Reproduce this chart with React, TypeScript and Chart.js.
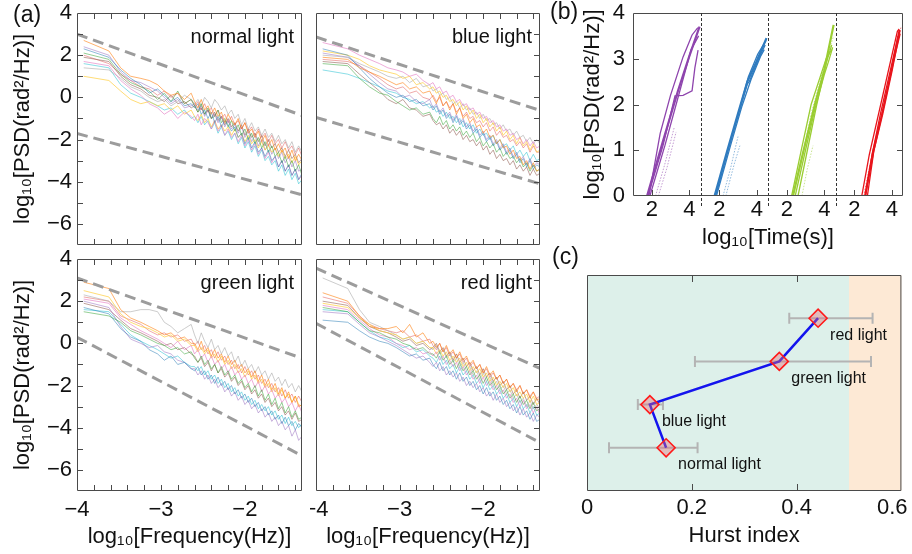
import React, { useEffect, useRef } from 'react';
import { Chart, registerables } from 'chart.js';
Chart.register(...registerables);

const FONT = "'Liberation Sans', Arial, Helvetica, sans-serif";
const MINUS = '\u2212';
const INK = '#111111';

// ---------------- (a) PSD panels ----------------
const FREQ = [
  -3.92, -3.62, -3.48, -3.36, -3.24, -3.14, -3.04, -2.96, -2.88, -2.8, -2.72, -2.64,
  -2.6, -2.56, -2.52, -2.48, -2.44, -2.4, -2.36, -2.32, -2.28, -2.24, -2.2,
  -2.16, -2.12, -2.08, -2.04, -2.0, -1.96, -1.92, -1.88, -1.84, -1.8, -1.76,
  -1.72, -1.68, -1.64, -1.6, -1.56, -1.52, -1.48, -1.44, -1.4, -1.36, -1.32,
];

const PSD_COLORS = [
  'rgba(255,127,14,0.6)', 'rgba(31,119,180,0.5)', 'rgba(44,160,44,0.5)', 'rgba(227,119,194,0.6)',
  'rgba(255,205,60,0.7)', 'rgba(170,170,170,0.6)', 'rgba(148,103,189,0.5)', 'rgba(140,86,75,0.55)',
  'rgba(23,190,207,0.5)', 'rgba(214,39,40,0.4)',
];

const NORMAL_PSD = [
  [2.7, 2.2, 1.4, 1.0, 0.9, 0.8, 0.6, 0.3, 0.1, 0.2, -0.1, 0.2,
    -0.2, -0.5, -0.1, -0.6, -0.4, -0.8, -0.5, -0.9, -0.7, -1.2, -0.8,
    -1.1, -1.3, -1.0, -1.5, -1.2, -1.7, -1.5, -1.9, -1.6, -2.1, -1.8,
    -2.3, -2.0, -2.5, -2.2, -2.6, -2.4, -2.9, -2.5, -3.0, -2.7, -3.0],
  [2.3, 1.9, 1.3, 0.9, 0.6, 0.2, 0.4, 0.1, -0.2, 0.0, -0.4, -0.3,
    -0.5, -0.3, -0.8, -0.6, -1.0, -0.7, -1.2, -0.9, -1.4, -1.1, -1.3,
    -1.6, -1.4, -1.9, -1.7, -2.2, -1.9, -2.4, -2.1, -2.6, -2.4, -2.8,
    -2.5, -3.0, -2.8, -3.3, -3.0, -3.5, -3.2, -3.7, -3.4, -3.9, -3.6],
  [2.1, 1.8, 1.1, 0.7, 0.5, 0.3, -0.1, 0.2, -0.2, 0.3, -0.3, -0.1,
    -0.4, -0.7, -0.3, -0.8, -0.5, -1.0, -0.9, -0.6, -1.2, -1.0, -1.4,
    -1.1, -1.6, -1.3, -1.8, -1.5, -2.0, -1.7, -2.2, -1.9, -2.4, -2.1,
    -2.6, -2.3, -2.8, -2.6, -3.1, -2.8, -3.3, -3.0, -3.5, -3.2, -3.7],
  [1.7, 1.5, 0.8, 0.4, 0.1, -0.3, -0.5, -0.8, -0.6, -1.0, -0.7, -0.9,
    -1.1, -0.8, -1.3, -1.0, -1.2, -1.5, -1.1, -1.6, -1.3, -1.8, -1.5,
    -1.9, -1.7, -2.1, -1.8, -2.3, -2.0, -2.5, -2.2, -2.7, -2.4, -2.9,
    -2.6, -3.1, -2.8, -3.3, -3.0, -3.5, -3.2, -3.7, -3.4, -3.9, -3.7],
  [1.0, 0.8, 0.3, -0.1, -0.3, -0.2, -0.4, -0.3, -0.6, -0.4, -0.8, -0.6,
    -0.9, -1.1, -0.8, -1.2, -1.0, -1.4, -1.1, -1.5, -1.3, -1.6, -1.4,
    -1.8, -1.5, -1.9, -1.7, -2.1, -1.8, -2.2, -2.0, -2.4, -2.1, -2.5,
    -2.3, -2.6, -2.4, -2.8, -2.5, -2.9, -2.7, -3.1, -2.8, -3.2, -3.0],
  [1.4, 1.3, 0.9, 0.5, 0.3, 0.0, -0.2, -0.1, -0.4, -0.2, 0.1, -0.1,
    -0.3, -0.1, -0.4, 0.0, -0.2, -0.5, -0.1, -0.3, -0.6, -0.4, -0.8,
    -0.6, -1.0, -0.8, -1.3, -1.0, -1.5, -1.2, -1.6, -1.4, -1.8, -1.5,
    -1.9, -1.7, -2.1, -1.8, -2.2, -2.0, -2.4, -2.1, -2.6, -2.3, -2.6],
  [2.4, 2.0, 1.2, 0.8, 0.7, 0.5, 0.3, 0.0, -0.3, -0.1, -0.5, -0.4,
    -0.3, -0.6, -0.4, -0.9, -0.6, -1.0, -0.8, -1.2, -0.9, -1.4, -1.1,
    -1.5, -1.3, -1.7, -1.4, -1.9, -1.6, -2.1, -1.8, -2.3, -2.0, -2.5,
    -2.2, -2.7, -2.4, -2.9, -2.6, -3.1, -2.8, -3.3, -3.0, -3.5, -3.4],
  [1.9, 1.7, 1.0, 0.6, 0.4, 0.1, 0.0, -0.2, 0.1, -0.3, -0.2, -0.5,
    -0.4, -0.7, -0.5, -0.8, -0.6, -1.0, -0.7, -1.1, -0.9, -1.3, -1.0,
    -1.4, -1.2, -1.6, -1.3, -1.8, -1.5, -1.9, -1.7, -2.1, -1.8, -2.3,
    -2.0, -2.4, -2.2, -2.6, -2.4, -2.8, -2.5, -2.9, -2.7, -3.1, -2.9],
  [1.6, 1.4, 0.6, 0.2, 0.0, -0.2, -0.4, -0.6, -0.5, -0.8, -0.6, -1.0,
    -0.9, -1.2, -0.9, -1.3, -1.1, -1.5, -1.2, -1.7, -1.4, -1.8, -1.6,
    -2.0, -1.7, -2.2, -1.9, -2.4, -2.1, -2.6, -2.3, -2.8, -2.5, -3.0,
    -2.8, -3.2, -3.0, -3.5, -3.2, -3.7, -3.4, -3.9, -3.6, -4.1, -3.9],
  [2.0, 1.6, 1.1, 0.8, 0.5, 0.4, 0.1, 0.3, 0.0, 0.2, -0.3, -0.1,
    -0.4, -0.2, -0.6, -0.3, -0.7, -0.5, -0.9, -0.6, -1.0, -0.8, -1.2,
    -0.9, -1.3, -1.1, -1.5, -1.2, -1.6, -1.4, -1.8, -1.5, -1.9, -1.7,
    -2.1, -1.8, -2.2, -2.0, -2.4, -2.1, -2.5, -2.3, -2.7, -2.4, -2.8],
];

const BLUE_PSD = [
  [1.9, 1.8, 1.4, 1.2, 1.0, 0.8, 0.6, 0.7, 0.4, 0.5, 0.2, 0.3,
    0.0, -0.3, 0.1, -0.4, -0.2, -0.6, -0.3, -0.8, -0.5, -1.0, -0.8,
    -1.2, -1.0, -1.4, -1.3, -1.7, -1.5, -1.9, -1.8, -2.2, -2.0, -2.4,
    -2.3, -2.7, -2.5, -2.9, -2.8, -3.2, -3.0, -3.4, -3.1, -3.5, -3.4],
  [2.3, 2.0, 1.4, 0.9, 0.5, 0.2, 0.0, 0.1, -0.2, -0.1, -0.4, -0.3,
    -0.6, -0.4, -0.8, -0.6, -1.0, -0.8, -1.2, -0.9, -1.3, -1.1, -1.5,
    -1.3, -1.7, -1.5, -1.9, -1.7, -2.1, -1.9, -2.3, -2.1, -2.5, -2.3,
    -2.7, -2.5, -2.9, -2.7, -3.1, -2.9, -3.3, -3.0, -3.4, -3.2, -3.3],
  [1.6, 1.5, 0.9, 0.5, 0.2, 0.1, -0.2, -0.4, -0.6, -0.5, -0.8, -0.7,
    -1.0, -1.2, -0.9, -1.3, -1.1, -1.5, -1.3, -1.6, -1.4, -1.8, -1.6,
    -1.9, -1.7, -2.1, -1.9, -2.3, -2.1, -2.4, -2.2, -2.6, -2.4, -2.8,
    -2.6, -2.9, -2.8, -3.1, -2.9, -3.3, -3.1, -3.5, -3.2, -3.5, -3.4],
  [2.6, 2.3, 2.0, 1.8, 1.6, 1.4, 1.3, 1.2, 1.0, 1.1, 0.8, 0.6,
    0.7, 0.4, 0.5, 0.2, 0.3, 0.0, 0.1, -0.2, -0.1, -0.4, -0.3,
    -0.6, -0.5, -0.8, -0.7, -1.0, -0.9, -1.2, -1.1, -1.4, -1.3, -1.6,
    -1.5, -1.8, -1.7, -2.0, -1.9, -2.2, -2.0, -2.3, -2.1, -2.4, -2.3],
  [2.2, 2.0, 1.8, 1.5, 1.3, 1.2, 1.1, 0.9, 1.0, 0.6, 0.7, 0.4,
    0.5, 0.2, 0.3, 0.0, 0.1, -0.2, -0.1, -0.4, -0.2, -0.6, -0.4,
    -0.8, -0.6, -1.0, -0.8, -1.2, -1.0, -1.4, -1.2, -1.6, -1.4, -1.8,
    -1.6, -2.0, -1.8, -2.2, -1.9, -2.3, -2.1, -2.5, -2.2, -2.6, -2.5],
  [2.0, 1.9, 1.6, 1.4, 1.2, 1.0, 0.9, 1.0, 0.7, 0.9, 0.5, 0.6,
    0.3, 0.4, 0.1, 0.2, -0.1, 0.0, -0.3, -0.2, -0.5, -0.3, -0.6,
    -0.5, -0.8, -0.7, -1.0, -0.8, -1.1, -1.0, -1.3, -1.2, -1.5, -1.3,
    -1.6, -1.5, -1.8, -1.6, -1.9, -1.8, -2.1, -1.9, -2.2, -2.0, -2.2],
  [2.1, 1.9, 1.5, 1.1, 0.7, 0.4, 0.3, 0.0, 0.1, -0.2, -0.3, -0.1,
    -0.5, -0.3, -0.7, -0.5, -0.9, -0.7, -1.1, -0.8, -1.2, -1.0, -1.4,
    -1.2, -1.6, -1.4, -1.8, -1.6, -2.0, -1.8, -2.2, -2.0, -2.4, -2.2,
    -2.6, -2.4, -2.8, -2.6, -3.0, -2.8, -3.2, -2.9, -3.3, -3.1, -3.2],
  [1.7, 1.6, 1.1, 0.7, 0.3, -0.1, -0.3, -0.1, -0.5, -0.6, -0.9, -0.8,
    -1.1, -1.3, -1.2, -1.5, -1.3, -1.7, -1.5, -1.8, -1.6, -2.0, -1.8,
    -2.1, -2.0, -2.3, -2.1, -2.5, -2.3, -2.7, -2.5, -2.9, -2.7, -3.0,
    -2.9, -3.2, -3.0, -3.4, -3.2, -3.5, -3.3, -3.7, -3.4, -3.7, -3.6],
  [1.3, 1.1, 0.9, 0.7, 0.5, 0.3, 0.2, 0.0, -0.1, -0.3, -0.2, -0.5,
    -0.4, -0.7, -0.6, -0.9, -0.7, -1.0, -0.9, -1.2, -1.0, -1.4, -1.2,
    -1.5, -1.3, -1.7, -1.5, -1.8, -1.7, -2.0, -1.8, -2.2, -2.0, -2.3,
    -2.2, -2.5, -2.3, -2.7, -2.5, -2.8, -2.6, -3.0, -2.7, -3.0, -2.9],
  [1.8, 1.7, 1.5, 1.2, 0.9, 0.6, 0.4, 0.5, 0.2, 0.3, 0.0, -0.1,
    0.1, -0.2, 0.0, -0.4, -0.2, -0.5, -0.3, -0.7, -0.5, -0.9, -0.7,
    -1.0, -0.9, -1.2, -1.1, -1.4, -1.2, -1.6, -1.4, -1.8, -1.6, -1.9,
    -1.8, -2.1, -2.0, -2.3, -2.1, -2.4, -2.2, -2.6, -2.3, -2.6, -2.6],
];

const GREEN_PSD = [
  [2.9, 2.6, 1.6, 1.2, 1.0, 0.8, 0.6, 0.4, 0.5, 0.2, 0.3, 0.0,
    0.0, -0.3, 0.1, -0.4, -0.2, -0.6, -0.3, -0.7, -0.5, -0.9, -0.6,
    -1.0, -0.8, -1.2, -1.0, -1.4, -1.2, -1.6, -1.3, -1.8, -1.5, -2.0,
    -1.7, -2.2, -1.9, -2.4, -2.1, -2.6, -2.3, -2.8, -2.5, -3.0, -2.9],
  [1.7, 1.4, 0.7, 0.3, 0.1, -0.3, -0.5, -0.8, -0.6, -1.0, -0.9, -1.2,
    -1.3, -1.1, -1.5, -1.3, -1.7, -1.5, -1.9, -1.6, -2.0, -1.8, -2.2,
    -2.0, -2.4, -2.2, -2.6, -2.4, -2.8, -2.6, -3.0, -2.8, -3.2, -3.0,
    -3.4, -3.2, -3.6, -3.4, -3.8, -3.5, -3.9, -3.7, -4.1, -3.8, -4.0],
  [1.5, 1.3, 1.0, 0.6, 0.4, 0.2, 0.0, -0.1, -0.3, -0.2, -0.5, -0.4,
    -0.7, -0.9, -0.6, -1.0, -0.8, -1.2, -1.0, -1.4, -1.1, -1.5, -1.3,
    -1.7, -1.5, -1.9, -1.7, -2.1, -1.9, -2.3, -2.0, -2.5, -2.2, -2.7,
    -2.4, -2.9, -2.6, -3.1, -2.8, -3.3, -3.0, -3.5, -3.2, -3.6, -3.5],
  [2.1, 1.9, 1.2, 0.9, 0.6, 0.4, 0.2, 0.0, -0.2, 0.1, -0.3, -0.1,
    -0.5, -0.3, -0.7, -0.5, -0.9, -0.6, -1.0, -0.8, -1.2, -1.0, -1.4,
    -1.1, -1.5, -1.3, -1.7, -1.5, -1.9, -1.7, -2.1, -1.8, -2.3, -2.0,
    -2.4, -2.2, -2.6, -2.4, -2.8, -2.6, -3.0, -2.8, -3.2, -2.9, -3.3],
  [2.5, 2.2, 1.4, 1.0, 0.8, 0.7, 0.5, 0.3, 0.4, 0.1, 0.2, -0.1,
    -0.1, -0.4, -0.2, -0.5, -0.3, -0.7, -0.5, -0.9, -0.6, -1.0, -0.8,
    -1.2, -1.0, -1.4, -1.2, -1.6, -1.3, -1.7, -1.5, -1.9, -1.7, -2.1,
    -1.9, -2.3, -2.1, -2.5, -2.2, -2.6, -2.4, -2.8, -2.5, -2.9, -3.0],
  [2.3, 2.0, 1.5, 1.5, 1.6, 1.6, 1.5, 1.0, 0.8, 0.5, 0.7, 0.9,
    0.4, 0.0, 0.5, 0.1, -0.2, 0.2, -0.3, -0.1, -0.5, -0.2, -0.6,
    -0.4, -0.9, -0.6, -1.1, -0.8, -1.2, -1.0, -1.4, -1.1, -1.5, -1.3,
    -1.7, -1.4, -1.8, -1.6, -2.0, -1.7, -2.1, -1.9, -2.3, -2.0, -2.3],
  [2.0, 1.7, 0.8, 0.2, 0.0, -0.2, -0.1, -0.4, -0.5, -0.8, -0.9, -1.2,
    -1.2, -1.5, -1.3, -1.7, -1.5, -1.9, -1.7, -2.1, -1.9, -2.3, -2.1,
    -2.5, -2.3, -2.7, -2.5, -2.9, -2.7, -3.1, -2.9, -3.3, -3.1, -3.5,
    -3.3, -3.7, -3.5, -3.9, -3.7, -4.1, -3.9, -4.4, -4.1, -4.6, -4.4],
  [1.9, 1.6, 1.1, 0.7, 0.5, 0.3, 0.1, -0.1, 0.0, -0.3, -0.2, -0.5,
    -0.6, -0.9, -0.7, -1.1, -0.9, -1.3, -1.0, -1.4, -1.2, -1.6, -1.4,
    -1.8, -1.6, -2.0, -1.8, -2.2, -2.0, -2.4, -2.2, -2.6, -2.4, -2.8,
    -2.6, -3.0, -2.8, -3.2, -3.0, -3.4, -3.2, -3.6, -3.3, -3.7, -3.6],
  [1.6, 1.5, 0.9, 0.4, 0.1, -0.1, -0.3, -0.5, -0.7, -0.6, -0.9, -1.1,
    -1.1, -1.3, -1.1, -1.5, -1.3, -1.7, -1.5, -1.9, -1.7, -2.1, -1.9,
    -2.3, -2.1, -2.5, -2.3, -2.7, -2.5, -2.9, -2.7, -3.1, -2.9, -3.2,
    -3.0, -3.4, -3.2, -3.6, -3.4, -3.8, -3.5, -3.9, -3.7, -4.0, -3.8],
  [2.2, 2.0, 1.3, 1.1, 0.9, 0.6, 0.4, 0.5, 0.3, 0.4, 0.1, 0.2,
    -0.1, 0.1, -0.3, -0.1, -0.5, -0.3, -0.7, -0.4, -0.8, -0.6, -1.0,
    -0.8, -1.2, -1.0, -1.4, -1.1, -1.5, -1.3, -1.7, -1.5, -1.9, -1.7,
    -2.1, -1.9, -2.3, -2.1, -2.5, -2.2, -2.6, -2.4, -2.8, -2.5, -2.8],
];

const RED_PSD = [
  [2.4, 2.0, 1.3, 0.8, 0.7, 0.7, 0.8, 0.5, 0.9, 0.3, 0.5, 0.0,
    0.1, -0.2, 0.0, -0.4, -0.1, -0.5, -0.3, -0.7, -0.4, -0.8, -0.6,
    -1.0, -0.8, -1.2, -1.0, -1.4, -1.1, -1.5, -1.3, -1.7, -1.5, -1.9,
    -1.7, -2.1, -1.9, -2.3, -2.0, -2.4, -2.2, -2.6, -2.3, -2.7, -2.6],
  [1.1, 1.0, 0.6, 0.3, 0.1, 0.0, -0.2, -0.4, -0.6, -0.5, -0.8, -0.7,
    -1.0, -1.2, -0.9, -1.3, -1.1, -1.5, -1.3, -1.7, -1.4, -1.8, -1.6,
    -2.0, -1.8, -2.2, -2.0, -2.4, -2.1, -2.5, -2.3, -2.7, -2.5, -2.9,
    -2.7, -3.1, -2.9, -3.3, -3.0, -3.4, -3.2, -3.6, -3.3, -3.7, -3.6],
  [1.7, 1.5, 1.0, 0.6, 0.5, 0.3, 0.2, 0.0, -0.1, -0.3, -0.2, -0.5,
    -0.5, -0.7, -0.4, -0.8, -0.6, -1.0, -0.8, -1.2, -0.9, -1.3, -1.1,
    -1.5, -1.3, -1.7, -1.5, -1.9, -1.6, -2.0, -1.8, -2.2, -2.0, -2.4,
    -2.2, -2.6, -2.4, -2.8, -2.5, -2.9, -2.7, -3.1, -2.8, -3.2, -3.1],
  [1.8, 1.6, 1.1, 0.7, 0.4, 0.3, 0.0, -0.1, -0.3, -0.2, -0.5, -0.4,
    -0.6, -0.4, -0.8, -0.6, -1.0, -0.8, -1.1, -0.9, -1.3, -1.1, -1.5,
    -1.3, -1.7, -1.5, -1.9, -1.6, -2.0, -1.8, -2.2, -2.0, -2.4, -2.2,
    -2.6, -2.4, -2.8, -2.6, -3.0, -2.7, -3.1, -2.9, -3.3, -3.0, -3.4],
  [1.9, 1.7, 1.2, 0.9, 0.6, 0.5, 0.4, 0.2, 0.3, 0.0, 0.1, -0.2,
    -0.2, -0.5, -0.3, -0.6, -0.4, -0.8, -0.6, -0.9, -0.7, -1.1, -0.9,
    -1.3, -1.1, -1.4, -1.2, -1.6, -1.4, -1.8, -1.6, -2.0, -1.8, -2.1,
    -1.9, -2.3, -2.1, -2.5, -2.3, -2.6, -2.4, -2.8, -2.5, -2.9, -2.8],
  [3.1, 2.6, 1.6, 1.0, 0.8, 0.6, 0.4, 0.2, 0.3, 0.0, 0.1, -0.2,
    -0.3, -0.1, -0.5, -0.3, -0.7, -0.5, -0.9, -0.7, -1.1, -0.9, -1.3,
    -1.1, -1.5, -1.3, -1.7, -1.4, -1.8, -1.6, -2.0, -1.8, -2.2, -2.0,
    -2.4, -2.2, -2.6, -2.4, -2.8, -2.6, -3.0, -2.7, -3.1, -2.9, -3.1],
  [1.5, 1.4, 0.9, 0.5, 0.3, 0.1, -0.1, -0.3, -0.5, -0.7, -0.6, -0.9,
    -1.1, -0.9, -1.3, -1.1, -1.5, -1.3, -1.6, -1.4, -1.8, -1.6, -2.0,
    -1.8, -2.1, -1.9, -2.3, -2.1, -2.5, -2.3, -2.7, -2.4, -2.8, -2.6,
    -3.0, -2.8, -3.2, -3.0, -3.4, -3.1, -3.5, -3.3, -3.7, -3.4, -3.5],
  [2.0, 1.8, 1.2, 0.8, 0.6, 0.5, 0.3, 0.1, 0.2, -0.1, 0.0, -0.3,
    -0.2, 0.0, -0.4, -0.2, -0.6, -0.4, -0.8, -0.5, -0.9, -0.7, -1.1,
    -0.9, -1.3, -1.1, -1.5, -1.2, -1.6, -1.4, -1.8, -1.6, -2.0, -1.8,
    -2.2, -2.0, -2.4, -2.2, -2.6, -2.3, -2.7, -2.5, -2.9, -2.6, -2.9],
  [1.6, 1.5, 1.0, 0.6, 0.3, 0.2, 0.0, -0.2, -0.1, -0.4, -0.3, -0.6,
    -0.7, -0.9, -0.6, -1.0, -0.8, -1.2, -1.0, -1.4, -1.1, -1.5, -1.3,
    -1.7, -1.5, -1.9, -1.7, -2.1, -1.8, -2.2, -2.0, -2.4, -2.2, -2.6,
    -2.4, -2.8, -2.6, -3.0, -2.7, -3.1, -2.9, -3.3, -3.0, -3.4, -3.3],
  [2.2, 1.9, 1.3, 0.9, 0.7, 0.6, 0.5, 0.6, 0.3, 0.4, 0.1, 0.2,
    -0.1, -0.3, 0.0, -0.4, -0.2, -0.6, -0.4, -0.7, -0.5, -0.9, -0.7,
    -1.1, -0.9, -1.2, -1.0, -1.4, -1.2, -1.6, -1.4, -1.7, -1.5, -1.9,
    -1.7, -2.1, -1.9, -2.2, -2.0, -2.4, -2.2, -2.5, -2.3, -2.6, -2.5],
];

const BOUND_X = [-4, -1.32];
const NORMAL_UPPER = [3.0, -0.86];
const NORMAL_LOWER = [-1.71, -4.62];
const BLUE_UPPER = [2.86, -0.62];
const BLUE_LOWER = [-0.95, -4.1];
const GREEN_UPPER = [3.1, -0.71];
const GREEN_LOWER = [0.29, -5.33];
const RED_UPPER = [3.57, -1.19];
const RED_LOWER = [0.95, -4.71];

const PSD_X_TICKS = [-4, -3, -2];
const PSD_X_MINOR = [-3.8, -3.6, -3.4, -3.2, -3, -2.8, -2.6, -2.4, -2.2, -2, -1.8, -1.6, -1.4];
const PSD_Y_TICKS = [-6, -4, -2, 0, 2, 4];
const PSD_Y_MINOR = [-6, -5, -4, -3, -2, -1, 0, 1, 2, 3];

// ---------------- (b) time panels ----------------
const TIME_SUB_MIN = 1;
const TIME_SUB_MAX = 4.6;
const TIME_TICKS = [2, 4];
const B_Y_TICKS = [0, 1, 2, 3, 4];
const B_COLORS = ['#8e44ad', '#2f7bbf', '#9acd32', '#e8141b'];

const PURPLE_CURVES = [
  [[1.75, 0], [2.6, 1.2], [3.4, 2.3], [4.0, 3.05], [4.55, 3.7]],
  [[1.85, 0], [2.45, 1.37], [3.0, 2.2], [3.67, 3.04], [4.15, 3.52], [4.46, 3.68]],
  [[1.8, 0], [2.6, 1.1], [3.24, 2.19], [3.67, 2.2], [4.15, 2.3], [4.3, 2.8], [4.47, 3.19]],
  [[1.9, 0], [2.7, 1.1], [3.5, 2.3], [4.1, 3.2], [4.5, 3.5]],
  [[2.2, 0], [2.7, 0.7], [3.2, 1.5]],
  [[2.35, 0], [2.8, 0.6], [3.3, 1.4]],
];
const BLUE_CURVES = [
  [[1.75, 0], [2.4, 0.95], [3.0, 1.8], [3.5, 2.5], [4.0, 2.95], [4.52, 3.45]],
  [[1.8, 0], [2.5, 1.05], [3.1, 1.9], [3.5, 2.45], [3.6, 2.5], [4.1, 3.0], [4.45, 3.3]],
  [[1.85, 0], [2.6, 1.1], [3.2, 1.95], [3.7, 2.55], [4.2, 3.05], [4.4, 3.2]],
  [[1.78, 0], [2.45, 1.0], [3.05, 1.85], [3.55, 2.6], [4.05, 3.1], [4.5, 3.4]],
  [[2.2, 0], [2.6, 0.6], [3.0, 1.3]],
  [[2.35, 0], [2.8, 0.7], [3.1, 1.1]],
];
const GREEN_CURVES = [
  [[2.33, 0], [2.9, 1.0], [3.5, 2.0], [4.0, 2.75], [4.5, 3.74]],
  [[2.26, 0], [2.8, 1.05], [3.3, 2.0], [3.7, 2.5], [4.1, 3.0], [4.4, 3.2]],
  [[2.45, 0], [3.0, 1.0], [3.5, 1.9], [4.0, 2.65], [4.25, 2.97], [4.45, 3.25]],
  [[2.6, 0], [3.1, 1.0], [3.6, 2.0], [4.1, 2.9], [4.4, 3.3]],
  [[2.35, 0], [2.85, 0.9], [3.3, 1.8], [3.9, 2.7], [4.5, 3.5]],
  [[2.81, 0], [3.1, 0.6], [3.4, 1.1]],
];
const RED_CURVES = [
  [[2.58, 0], [3.0, 0.95], [3.5, 1.8], [4.0, 2.75], [4.42, 3.63]],
  [[2.4, 0], [2.8, 0.9], [3.3, 1.8], [3.8, 2.7], [4.3, 3.6], [4.4, 3.65]],
  [[2.6, 0], [2.95, 0.9], [3.4, 1.8], [3.9, 2.7], [4.34, 3.5]],
  [[2.7, 0], [3.05, 1.0], [3.6, 2.0], [4.1, 2.95], [4.45, 3.55]],
  [[2.5, 0], [2.9, 0.8], [3.2, 1.3], [3.7, 2.3], [4.2, 3.2], [4.5, 3.7]],
];
const CURVE_WIDTHS = [2.2, 1.3, 1.3, 1.3, 1, 1];
const CURVE_DOTTED = [false, false, false, false, true, true];

// ---------------- (c) Hurst index ----------------
const H_LABELS = ['normal light', 'blue light', 'green light', 'red light'];
const H_POS = [1, 2, 3, 4];
const H_VALUES = [0.151, 0.12, 0.367, 0.441];
const H_LOW = [0.042, 0.097, 0.206, 0.386];
const H_HIGH = [0.211, 0.145, 0.542, 0.545];
const H_X_TICKS = [0, 0.2, 0.4, 0.6];
const H_SPLIT = 0.5;

const fmtNum = (v: number) => (v < 0 ? MINUS + String(Math.abs(v)) : String(v));
const font = (size: number) => ({ family: FONT, size });

// frame + inward ticks
const framePlugin = {
  id: 'frame',
  afterDatasetsDraw(chart: any, _a: any, o: any) {
    const { ctx, chartArea: a, scales } = chart;
    const xs = scales.x, ys = scales.y;
    const L = o.len ?? 6;
    ctx.save();
    ctx.strokeStyle = '#4a4a4a';
    ctx.lineWidth = 1;
    ctx.beginPath();
    ctx.rect(a.left + 0.5, a.top + 0.5, a.right - a.left - 1, a.bottom - a.top - 1);
    for (const t of o.xTicks || []) {
      const px = Math.round(xs.getPixelForValue(t)) + 0.5;
      if ((o.xSides || []).includes('top')) { ctx.moveTo(px, a.top); ctx.lineTo(px, a.top + L); }
      if ((o.xSides || []).includes('bottom')) { ctx.moveTo(px, a.bottom); ctx.lineTo(px, a.bottom - L); }
    }
    for (const t of o.yTicks || []) {
      const py = Math.round(ys.getPixelForValue(t)) + 0.5;
      if ((o.ySides || []).includes('left')) { ctx.moveTo(a.left, py); ctx.lineTo(a.left + L, py); }
      if ((o.ySides || []).includes('right')) { ctx.moveTo(a.right, py); ctx.lineTo(a.right - L, py); }
    }
    ctx.stroke();
    if (o.separators) {
      ctx.setLineDash([3, 2]);
      ctx.strokeStyle = '#333';
      ctx.beginPath();
      for (const s of o.separators) {
        const px = Math.round(xs.getPixelForValue(s)) + 0.5;
        ctx.moveTo(px, a.top);
        ctx.lineTo(px, a.bottom + (o.sepExtend || 0));
      }
      ctx.stroke();
    }
    ctx.restore();
  },
};

const panelLabelPlugin = {
  id: 'panelLabel',
  afterDatasetsDraw(chart: any, _a: any, o: any) {
    if (!o || !o.text) return;
    const { ctx, chartArea: a } = chart;
    ctx.save();
    ctx.font = `${o.size || 20}px ${FONT}`;
    ctx.fillStyle = INK;
    ctx.textAlign = 'right';
    ctx.textBaseline = 'middle';
    ctx.fillText(o.text, a.right - (o.dx ?? 8), a.top + (o.dy ?? 24));
    ctx.restore();
  },
};

const hurstPlugin = {
  id: 'hurst',
  beforeDatasetsDraw(chart: any) {
    const { ctx, chartArea: a, scales } = chart;
    const xs = scales.x, ys = scales.y;
    const split = xs.getPixelForValue(H_SPLIT);
    ctx.save();
    ctx.fillStyle = '#ddf0ea';
    ctx.fillRect(a.left, a.top, split - a.left, a.bottom - a.top);
    ctx.fillStyle = '#fde9d5';
    ctx.fillRect(split, a.top, a.right - split, a.bottom - a.top);
    ctx.strokeStyle = '#b4b4b4';
    ctx.lineWidth = 2;
    ctx.beginPath();
    H_POS.forEach((p, i) => {
      const y = ys.getPixelForValue(p);
      const x0 = xs.getPixelForValue(H_LOW[i]);
      const x1 = xs.getPixelForValue(H_HIGH[i]);
      ctx.moveTo(x0, y); ctx.lineTo(x1, y);
      ctx.moveTo(x0, y - 5.5); ctx.lineTo(x0, y + 5.5);
      ctx.moveTo(x1, y - 5.5); ctx.lineTo(x1, y + 5.5);
    });
    ctx.stroke();
    ctx.restore();
  },
  afterDatasetsDraw(chart: any) {
    const { ctx, scales } = chart;
    const xs = scales.x, ys = scales.y;
    ctx.save();
    ctx.font = `16px ${FONT}`;
    ctx.fillStyle = INK;
    ctx.textAlign = 'left';
    ctx.textBaseline = 'middle';
    H_POS.forEach((p, i) => {
      ctx.fillText(H_LABELS[i], xs.getPixelForValue(H_VALUES[i]) + 12, ys.getPixelForValue(p) + 17);
    });
    ctx.restore();
  },
};

type PsdSpec = {
  lines: number[][]; upper: number[]; lower: number[]; label: string;
  yAxis: boolean; xAxis: boolean; padding: any;
};

function psdConfig(s: PsdSpec): any {
  const datasets: any[] = [
    { data: BOUND_X.map((x, i) => ({ x, y: s.upper[i] })), borderColor: '#9c9c9c', borderWidth: 3, borderDash: [11, 6], pointRadius: 0 },
    { data: BOUND_X.map((x, i) => ({ x, y: s.lower[i] })), borderColor: '#9c9c9c', borderWidth: 3, borderDash: [11, 6], pointRadius: 0 },
  ];
  s.lines.forEach((vals, k) => {
    datasets.push({
      data: FREQ.map((x, i) => ({ x, y: vals[i] })).filter((p) => p.y !== undefined),
      borderColor: PSD_COLORS[k % PSD_COLORS.length], borderWidth: 1, pointRadius: 0, tension: 0,
    });
  });
  return {
    type: 'line',
    data: { datasets },
    plugins: [framePlugin, panelLabelPlugin],
    options: {
      animation: false, responsive: false, devicePixelRatio: 1, events: [],
      layout: { padding: s.padding },
      plugins: {
        legend: { display: false }, tooltip: { enabled: false },
        frame: {
          xTicks: PSD_X_MINOR, xSides: ['top', 'bottom'],
          yTicks: PSD_Y_MINOR, ySides: [s.yAxis ? 'left' : 'right'], len: 6,
        },
        panelLabel: { text: s.label, size: 20, dx: 8, dy: 24 },
      },
      scales: {
        x: {
          type: 'linear', min: -4, max: -1.32, display: s.xAxis,
          grid: { display: false, drawTicks: false }, border: { display: false },
          afterBuildTicks: (sc: any) => { sc.ticks = PSD_X_TICKS.map((v) => ({ value: v })); },
          ticks: { font: font(22), color: INK, padding: 6, maxRotation: 0, autoSkip: false, callback: (v: any) => fmtNum(Number(v)) },
          title: { display: true, text: 'log₁₀[Frequency(Hz)]', font: font(22), color: INK, padding: { top: 0, bottom: 4 } },
          afterFit: (sc: any) => { sc.height = s.xAxis ? 63 : 0; sc.paddingLeft = 0; sc.paddingRight = 0; },
        },
        y: {
          type: 'linear', min: -7, max: 4, display: s.yAxis,
          grid: { display: false, drawTicks: false }, border: { display: false },
          afterBuildTicks: (sc: any) => { sc.ticks = PSD_Y_TICKS.map((v) => ({ value: v })); },
          ticks: { font: font(22), color: INK, padding: 5, callback: (v: any) => fmtNum(Number(v)) },
          title: { display: true, text: 'log₁₀[PSD(rad²/Hz)]', font: font(22), color: INK, padding: { top: 10, bottom: 0 } },
          afterFit: (sc: any) => { sc.width = s.yAxis ? 77 : 0; sc.paddingTop = 0; sc.paddingBottom = 0; },
        },
      },
    },
  };
}

function timeConfig(): any {
  const SUB_W = TIME_SUB_MAX - TIME_SUB_MIN;
  const groups = [PURPLE_CURVES, BLUE_CURVES, GREEN_CURVES, RED_CURVES];
  const datasets: any[] = [];
  groups.forEach((curves, k) => {
    curves.forEach((pts, j) => {
      datasets.push({
        data: pts.map(([x, y]) => ({ x: k * SUB_W + x - TIME_SUB_MIN, y })),
        borderColor: CURVE_DOTTED[j] ? B_COLORS[k] + '88' : B_COLORS[k],
        borderWidth: CURVE_WIDTHS[j],
        borderDash: CURVE_DOTTED[j] ? [1.5, 1.5] : [],
        pointRadius: 0, tension: 0,
      });
    });
  });
  const xTickVals: number[] = [];
  for (let k = 0; k < 4; k++) for (const t of TIME_TICKS) xTickVals.push(k * SUB_W + t - TIME_SUB_MIN);
  return {
    type: 'line',
    data: { datasets },
    plugins: [framePlugin],
    options: {
      animation: false, responsive: false, devicePixelRatio: 1, events: [],
      layout: { padding: { left: 0, top: 13, right: 9, bottom: 0 } },
      plugins: {
        legend: { display: false }, tooltip: { enabled: false },
        frame: {
          xTicks: xTickVals, xSides: ['bottom'], yTicks: [1, 2, 3], ySides: ['left', 'right'], len: 6,
          separators: [SUB_W, 2 * SUB_W, 3 * SUB_W], sepExtend: 11,
        },
      },
      scales: {
        x: {
          type: 'linear', min: 0, max: 4 * SUB_W,
          grid: { display: false, drawTicks: false }, border: { display: false },
          afterBuildTicks: (sc: any) => { sc.ticks = xTickVals.map((v) => ({ value: v })); },
          ticks: {
            font: font(22), color: INK, padding: 1, maxRotation: 0, autoSkip: false,
            callback: (v: any) => String(Math.round(((Number(v) + 1e-9) % SUB_W) + TIME_SUB_MIN)),
          },
          title: { display: true, text: 'log₁₀[Time(s)]', font: font(22), color: INK, padding: { top: 0, bottom: 5 } },
          afterFit: (sc: any) => { sc.height = 60; sc.paddingLeft = 0; sc.paddingRight = 0; },
        },
        y: {
          type: 'linear', min: 0, max: 4,
          grid: { display: false, drawTicks: false }, border: { display: false },
          afterBuildTicks: (sc: any) => { sc.ticks = B_Y_TICKS.map((v) => ({ value: v })); },
          ticks: { font: font(22), color: INK, padding: 8 },
          title: { display: true, text: 'log₁₀[PSD(rad²/Hz)]', font: font(22), color: INK, padding: { top: 20, bottom: 0 } },
          afterFit: (sc: any) => { sc.width = 73; sc.paddingTop = 0; sc.paddingBottom = 0; },
        },
      },
    },
  };
}

function hurstConfig(): any {
  const pts = H_POS.map((p, i) => ({ x: H_VALUES[i], y: p }));
  return {
    type: 'line',
    data: {
      datasets: [
        {
          data: pts, showLine: false, pointStyle: 'rectRot', pointRadius: 9,
          pointBackgroundColor: 'rgba(230,110,120,0.4)', pointBorderColor: '#ff1a1a', pointBorderWidth: 1.6, order: 0,
        },
        { data: pts, borderColor: '#1414ee', borderWidth: 2.5, pointRadius: 0, tension: 0, order: 1 },
      ],
    },
    plugins: [hurstPlugin, framePlugin],
    options: {
      animation: false, responsive: false, devicePixelRatio: 1, events: [],
      layout: { padding: { left: 27, top: 25, right: 9, bottom: 0 } },
      plugins: {
        legend: { display: false }, tooltip: { enabled: false },
        frame: { xTicks: [0.2, 0.4], xSides: ['top', 'bottom'], yTicks: [], ySides: [], len: 7 },
      },
      scales: {
        x: {
          type: 'linear', min: 0, max: 0.6,
          grid: { display: false, drawTicks: false }, border: { display: false },
          afterBuildTicks: (sc: any) => { sc.ticks = H_X_TICKS.map((v) => ({ value: v })); },
          ticks: {
            font: font(22), color: INK, padding: 4, maxRotation: 0, autoSkip: false,
            callback: (v: any) => (Number(v) >= 0.6 ? String(Number(v)) + '   ' : String(Number(v))),
          },
          title: { display: true, text: 'Hurst index', font: font(22), color: INK, padding: { top: 0, bottom: 5 } },
          afterFit: (sc: any) => { sc.height = 63; sc.paddingLeft = 0; sc.paddingRight = 0; },
        },
        y: {
          type: 'linear', min: 0, max: 5, display: false,
          afterFit: (sc: any) => { sc.width = 0; },
        },
      },
    },
  };
}

const CANVASES = [
  { key: 'a1', left: 0, top: 0, w: 310, h: 250 },
  { key: 'a2', left: 310, top: 0, w: 250, h: 250 },
  { key: 'a3', left: 0, top: 250, w: 310, h: 304 },
  { key: 'a4', left: 310, top: 250, w: 250, h: 304 },
  { key: 'b', left: 560, top: 0, w: 352, h: 256 },
  { key: 'c', left: 560, top: 250, w: 352, h: 304 },
];

const TAGS = [
  { text: '(a)', left: 13, top: 3 },
  { text: '(b)', left: 550, top: 0 },
  { text: '(c)', left: 552, top: 245 },
];

export default function App() {
  const refs = useRef<Record<string, HTMLCanvasElement | null>>({});
  useEffect(() => {
    const cfgs: Record<string, any> = {
      a1: psdConfig({ lines: NORMAL_PSD, upper: NORMAL_UPPER, lower: NORMAL_LOWER, label: 'normal light', yAxis: true, xAxis: false, padding: { left: 0, top: 13, right: 8, bottom: 5 } }),
      a2: psdConfig({ lines: BLUE_PSD, upper: BLUE_UPPER, lower: BLUE_LOWER, label: 'blue light', yAxis: false, xAxis: false, padding: { left: 6, top: 13, right: 20, bottom: 5 } }),
      a3: psdConfig({ lines: GREEN_PSD, upper: GREEN_UPPER, lower: GREEN_LOWER, label: 'green light', yAxis: true, xAxis: true, padding: { left: 0, top: 9, right: 8, bottom: 0 } }),
      a4: psdConfig({ lines: RED_PSD, upper: RED_UPPER, lower: RED_LOWER, label: 'red light', yAxis: false, xAxis: true, padding: { left: 6, top: 9, right: 20, bottom: 0 } }),
      b: timeConfig(),
      c: hurstConfig(),
    };
    const charts: Chart[] = [];
    for (const c of CANVASES) {
      const el = refs.current[c.key];
      if (el) charts.push(new Chart(el, cfgs[c.key]));
    }
    return () => charts.forEach((ch) => ch.destroy());
  }, []);

  return (
    <div style={{ position: 'absolute', left: 0, top: 0, width: 912, height: 554, background: '#fff', overflow: 'hidden', fontFamily: FONT }}>
      {CANVASES.map((c) => (
        <canvas
          key={c.key}
          ref={(el) => { refs.current[c.key] = el; }}
          width={c.w}
          height={c.h}
          style={{ position: 'absolute', left: c.left, top: c.top, width: c.w, height: c.h }}
        />
      ))}
      {TAGS.map((t) => (
        <div key={t.text} style={{ position: 'absolute', left: t.left, top: t.top, fontSize: 23, lineHeight: '1', color: INK, fontFamily: FONT }}>
          {t.text}
        </div>
      ))}
    </div>
  );
}
